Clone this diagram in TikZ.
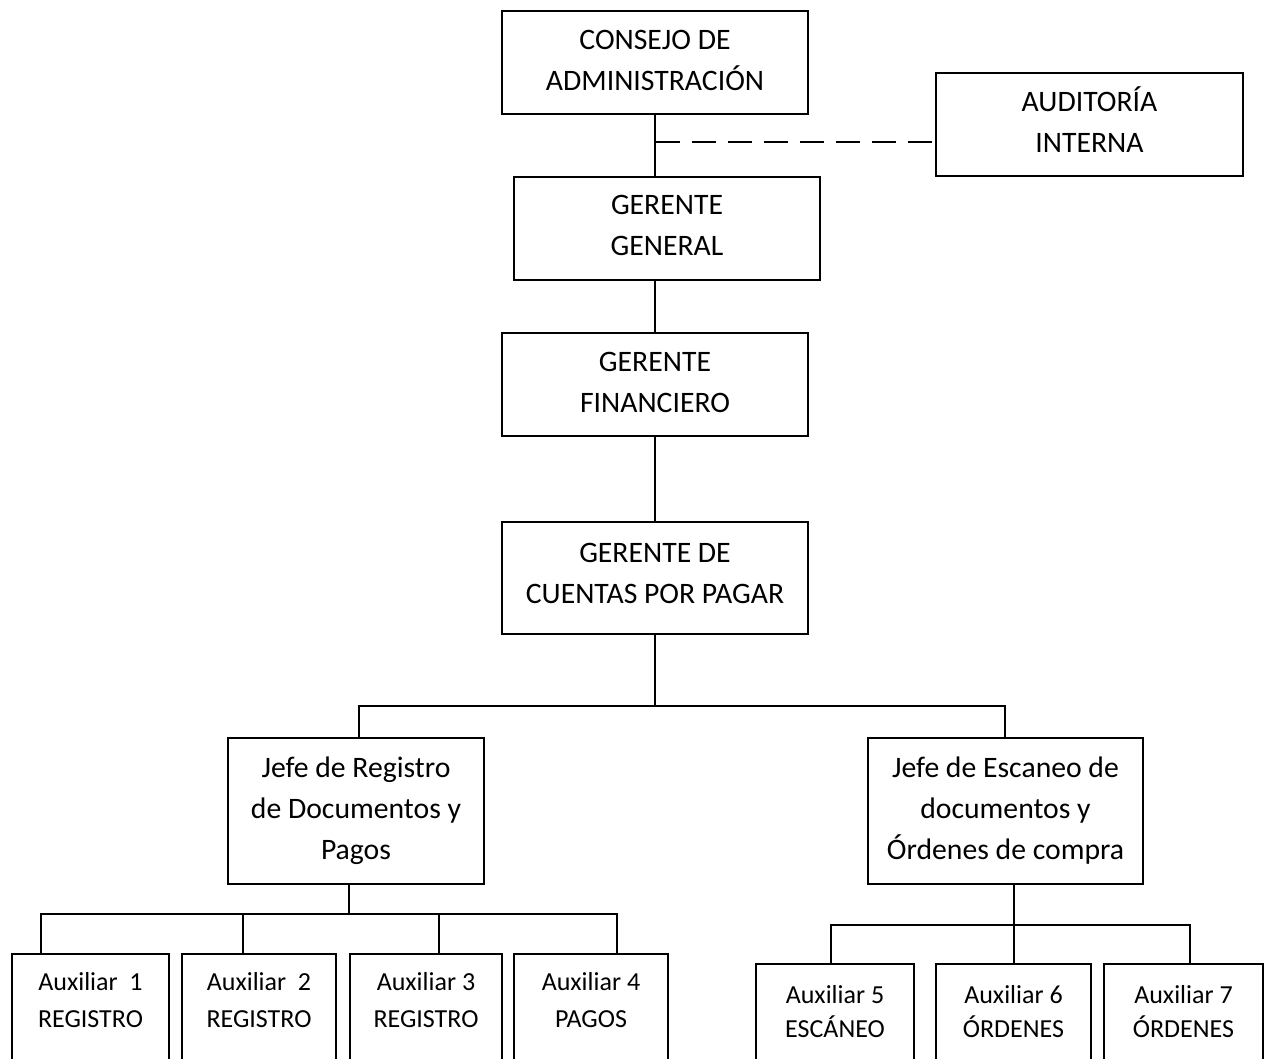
\documentclass[tikz,border=0pt]{standalone}
\usepackage{fontspec}
\setmainfont{Carlito}
\usetikzlibrary{calc}
\begin{document}
\begin{tikzpicture}[x=1pt,y=-1pt,line width=2pt,
  box/.style={draw,line width=2pt,rectangle,inner sep=0pt,anchor=north west,align=center,
    font=\fontsize{29.7}{41}\selectfont},
  lift/.style={execute at end node={\rule[-#1]{0pt}{#1}}},
  auxbox/.style={draw,line width=2pt,rectangle,inner sep=0pt,anchor=north west,minimum height=200pt},
  auxtxt/.style={inner sep=0pt,anchor=north,align=center,font=\fontsize{26}{37}\selectfont},
  auxtxtb/.style={inner sep=0pt,anchor=north,align=center,font=\fontsize{26}{34}\selectfont},
  conn/.style={line width=2pt},
  dotted link/.style={line width=2pt,dash pattern=on 24pt off 12pt}]
\clip (0,0) rectangle (1264,1059);
\fill[white] (0,0) rectangle (1264,1059);

% upper boxes
\node[box,lift=4pt,minimum width=306pt,minimum height=103pt] (cons) at (501,10) {CONSEJO DE\\ADMINISTRACIÓN};
\node[box,lift=10pt,minimum width=307pt,minimum height=103pt] (aud) at (935,72) {AUDITORÍA\\INTERNA};
\node[box,lift=6pt,minimum width=306pt,minimum height=103pt] (gg) at (513,176) {GERENTE\\GENERAL};
\node[box,lift=4pt,minimum width=306pt,minimum height=103pt] (gf) at (501,332) {GERENTE\\FINANCIERO};
\node[box,lift=10pt,minimum width=306pt,minimum height=112pt] (gcp) at (501,521) {GERENTE DE\\CUENTAS POR PAGAR};
\node[box,minimum width=256pt,minimum height=146pt] (jr) at (227,737) {Jefe de Registro\\de Documentos y\\Pagos};
\node[box,minimum width=275pt,minimum height=146pt] (je) at (867,737) {Jefe de Escaneo de\\documentos y\\Órdenes de compra};

% bottom boxes
\node[auxbox,minimum width=157pt] (a1) at (11,953) {};
\node[auxbox,minimum width=154pt] (a2) at (181,953) {};
\node[auxbox,minimum width=152pt] (a3) at (349,953) {};
\node[auxbox,minimum width=154pt] (a4) at (513,953) {};
\node[auxbox,minimum width=158pt] (a5) at (755,963) {};
\node[auxbox,minimum width=155pt] (a6) at (935,963) {};
\node[auxbox,minimum width=159pt] (a7) at (1103,963) {};

\node[auxtxt] (t1) at ($(a1.north)+(0,18)$) {Auxiliar\ \ 1\\REGISTRO};
\node[auxtxt] (t2) at ($(a2.north)+(0,18)$) {Auxiliar\ \ 2\\REGISTRO};
\node[auxtxt] (t3) at ($(a3.north)+(0,18)$) {Auxiliar 3\\REGISTRO};
\node[auxtxt] (t4) at ($(a4.north)+(0,18)$) {Auxiliar 4\\PAGOS};
\node[auxtxtb] (t5) at ($(a5.north)+(0,21)$) {Auxiliar 5\\ESCÁNEO};
\node[auxtxtb] (t6) at ($(a6.north)+(0,21)$) {Auxiliar 6\\ÓRDENES};
\node[auxtxtb] (t7) at ($(a7.north)+(0,21)$) {Auxiliar 7\\ÓRDENES};

% main spine
\coordinate (sp1) at (655,113);
\draw[conn] (sp1) -- (sp1 |- gg.north);
\coordinate (dj) at (656,142);
\draw[dotted link] (dj) -- (dj -| aud.west);
\coordinate (sp2) at (655,279);
\draw[conn] (sp2) -- (sp2 |- gf.north);
\coordinate (sp3) at (655,435);
\draw[conn] (sp3) -- (sp3 |- gcp.north);

% split to heads
\coordinate (bus1) at (655,706);
\coordinate (bl) at (359,706);
\coordinate (br) at (1005,706);
\draw[conn] (gcp.south -| bus1) -- (bus1);
\draw[conn] (bl |- jr.north) -- (bl) -- (br) -- (br |- je.north);

% left group
\coordinate (jrs) at (349,914);
\coordinate (d1) at (41,914);
\coordinate (d2) at (243,914);
\coordinate (d3) at (439,914);
\coordinate (d4) at (617,914);
\draw[conn] (jrs |- jr.south) -- (jrs);
\draw[conn] (d1 |- a1.north) -- (d1) -- (d4) -- (d4 |- a4.north);
\draw[conn] (d2) -- (d2 |- a2.north);
\draw[conn] (d3) -- (d3 |- a3.north);

% right group
\coordinate (d5) at (831,925);
\coordinate (d6) at (1014,925);
\coordinate (d7) at (1190,925);
\draw[conn] (d6 |- je.south) -- (d6 |- a6.north);
\draw[conn] (d5 |- a5.north) -- (d5) -- (d7) -- (d7 |- a7.north);
\end{tikzpicture}
\end{document}
